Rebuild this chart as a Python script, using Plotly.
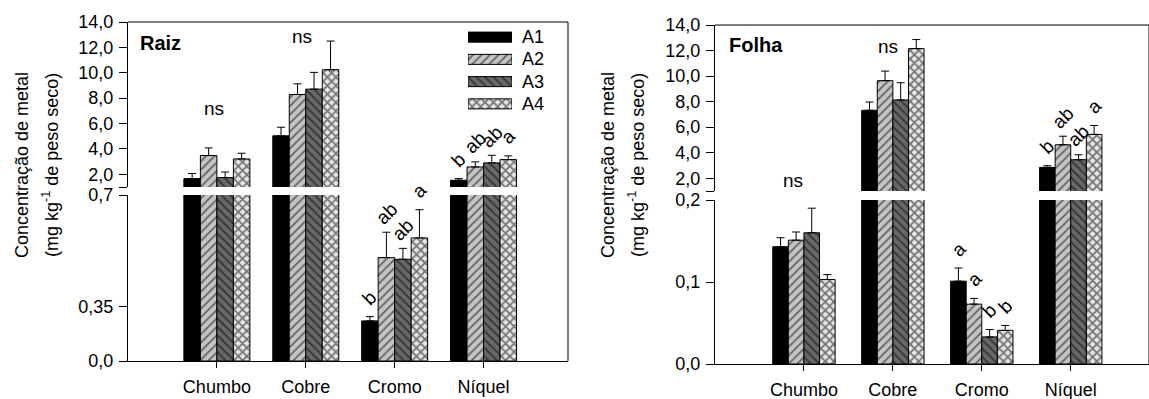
import plotly.graph_objects as go

# ---------------- data ----------------
categories = ["Chumbo", "Cobre", "Cromo", "Níquel"]
series = ["A1", "A2", "A3", "A4"]

# Raiz (root) means and upper error (mg kg-1)
raiz_A1 = [1.66, 5.03, 0.169, 1.53]
raiz_A2 = [3.48, 8.29, 0.436, 2.58]
raiz_A3 = [1.74, 8.71, 0.429, 2.90]
raiz_A4 = [3.21, 10.24, 0.519, 3.16]
raiz_err_A1 = [0.40, 0.68, 0.018, 0.13]
raiz_err_A2 = [0.60, 0.84, 0.107, 0.40]
raiz_err_A3 = [0.44, 1.32, 0.046, 0.60]
raiz_err_A4 = [0.45, 2.26, 0.119, 0.29]

# Folha (leaf) means and upper error (mg kg-1)
folha_A1 = [0.143, 7.32, 0.101, 2.85]
folha_A2 = [0.151, 9.64, 0.073, 4.62]
folha_A3 = [0.160, 8.13, 0.033, 3.45]
folha_A4 = [0.103, 12.15, 0.041, 5.43]
folha_err_A1 = [0.011, 0.65, 0.016, 0.13]
folha_err_A2 = [0.010, 0.75, 0.007, 0.67]
folha_err_A3 = [0.030, 1.35, 0.009, 0.39]
folha_err_A4 = [0.006, 0.71, 0.006, 0.70]

# significance letters per bar
raiz_letters_A1 = ["", "", "b", "b"]
raiz_letters_A2 = ["", "", "ab", "ab"]
raiz_letters_A3 = ["", "", "ab", "ab"]
raiz_letters_A4 = ["", "", "a", "a"]
folha_letters_A1 = ["", "", "a", "b"]
folha_letters_A2 = ["", "", "a", "ab"]
folha_letters_A3 = ["", "", "b", "ab"]
folha_letters_A4 = ["", "", "b", "a"]
# group-level "ns" labels
raiz_group_label = ["ns", "ns", "", ""]
folha_group_label = ["ns", "ns", "", ""]

upper_ticks = [1, 2, 4, 6, 8, 10, 12, 14]
upper_ticktext = [" ", "2,0", "4,0", "6,0", "8,0", "10,0", "12,0", "14,0"]

# ---------------- style ----------------
W, H = 1149, 399
FONT = "'Liberation Sans', Arial, sans-serif"
fills = ["#000000", "#c4c4c4", "#686868", "#e6e6e6"]
shapes_p = ["", "/", "\\", "x"]
solid = [0.3, 0.3, 0.3, 0.5]

def px_x(p):
    return p / W

def px_y(p):
    return (H - p) / H

panels = [
    dict(name="Raiz", vals=[raiz_A1, raiz_A2, raiz_A3, raiz_A4],
         errs=[raiz_err_A1, raiz_err_A2, raiz_err_A3, raiz_err_A4],
         letters=[raiz_letters_A1, raiz_letters_A2, raiz_letters_A3, raiz_letters_A4],
         group=raiz_group_label,
         x="x", xax="xaxis", lo="y", lo_ax="yaxis", up="y2", up_ax="yaxis2",
         xdom=[px_x(128), px_x(568)], xrange=[0, 4.95],
         lo_dom=[px_y(361), px_y(195)], up_dom=[px_y(187), px_y(22)],
         lo_range=[0, 0.7], lo_ticks=[0, 0.229, 0.7], lo_text=["0,0", "0,35", "0,7"],
         barw=0.1856,
         ns_pos=[(0.97, 7.2), (1.96, 12.84)],
         title_x=[22, 50], label_pos=(138, 43)),
    dict(name="Folha", vals=[folha_A1, folha_A2, folha_A3, folha_A4],
         errs=[folha_err_A1, folha_err_A2, folha_err_A3, folha_err_A4],
         letters=[folha_letters_A1, folha_letters_A2, folha_letters_A3, folha_letters_A4],
         group=folha_group_label,
         x="x2", xax="xaxis2", lo="y3", lo_ax="yaxis3", up="y4", up_ax="yaxis4",
         xdom=[px_x(715), 1.0], xrange=[0, 4.88],
         lo_dom=[px_y(364), px_y(200)], up_dom=[px_y(191), px_y(25)],
         lo_range=[0, 0.2], lo_ticks=[0, 0.1, 0.2], lo_text=["0,0", "0,1", "0,2"],
         barw=0.1753,
         ns_pos=[(0.88, 1.79), (1.95, 12.31)],
         title_x=[608, 636], label_pos=(727, 45)),
]

fig = go.Figure()
annotations = []
shapes = []
xpos = [i + 1 for i in range(len(categories))]

for P in panels:
    w = P["barw"]
    for si, sname in enumerate(series):
        off = -2 * w + si * w
        for yref in (P["lo"], P["up"]):
            fig.add_trace(go.Bar(
                x=xpos, y=P["vals"][si], base=0, width=w, offset=off,
                xaxis=P["x"], yaxis=yref, name=sname, showlegend=False,
                marker=dict(color=fills[si], line=dict(color="black", width=1),
                            pattern=dict(shape=shapes_p[si], fgcolor="black",
                                         bgcolor=fills[si], size=6, solidity=solid[si])),
                error_y=dict(type="data", symmetric=False, array=P["errs"][si],
                             arrayminus=[0] * len(categories), color="black",
                             thickness=1, width=4),
                hoverinfo="skip"))
        # significance letters
        for ci in range(len(categories)):
            lab = P["letters"][si][ci]
            if not lab:
                continue
            top = P["vals"][si][ci] + P["errs"][si][ci]
            yref = P["up"] if top > 1 else P["lo"]
            annotations.append(dict(
                x=xpos[ci] + off + w / 2, y=top, xref=P["x"], yref=yref,
                text=lab, showarrow=False, textangle=-45,
                xanchor="center", yanchor="middle", yshift=19,
                font=dict(family=FONT, size=19, color="black")))
    # ns labels
    k = 0
    for ci in range(len(categories)):
        if P["group"][ci]:
            nx, ny = P["ns_pos"][k]
            k += 1
            annotations.append(dict(
                x=nx, y=ny, xref=P["x"], yref=P["up"], text=P["group"][ci],
                showarrow=False, xanchor="center", yanchor="middle",
                font=dict(family=FONT, size=19, color="black")))
    # panel label
    annotations.append(dict(
        x=px_x(P["label_pos"][0]), y=px_y(P["label_pos"][1]), xref="paper", yref="paper",
        text="<b>%s</b>" % P["name"], showarrow=False, xanchor="left", yanchor="middle",
        font=dict(family=FONT, size=20, color="black")))
    # y titles
    ymid = px_y(165)
    annotations.append(dict(
        x=px_x(P["title_x"][0]), y=ymid, xref="paper", yref="paper",
        text="Concentração de metal", textangle=-90, showarrow=False,
        xanchor="center", yanchor="middle",
        font=dict(family=FONT, size=18, color="black")))
    annotations.append(dict(
        x=px_x(P["title_x"][1]), y=ymid, xref="paper", yref="paper",
        text="(mg kg<sup>-1</sup> de peso seco)", textangle=-90, showarrow=False,
        xanchor="center", yanchor="middle",
        font=dict(family=FONT, size=18, color="black")))

    # axes
    fig.layout[P["xax"]] = dict(
        domain=P["xdom"], range=P["xrange"], anchor=P["lo"],
        tickmode="array", tickvals=xpos, ticktext=categories,
        ticks="outside", ticklen=6, tickcolor="black",
        showline=True, linecolor="black", linewidth=1, showgrid=False,
        zeroline=False, automargin=False, ticklabelstandoff=3,
        tickfont=dict(family=FONT, size=18, color="black"))
    fig.layout[P["lo_ax"]] = dict(
        domain=P["lo_dom"], range=P["lo_range"], anchor=P["x"],
        tickmode="array", tickvals=P["lo_ticks"], ticktext=P["lo_text"],
        ticks="outside", ticklen=8, tickcolor="black",
        showline=True, linecolor="black", linewidth=1, showgrid=False,
        zeroline=False, automargin=False, ticklabelstandoff=2,
        tickfont=dict(family=FONT, size=18, color="black"))
    fig.layout[P["up_ax"]] = dict(
        domain=P["up_dom"], range=[1, 14], anchor=P["x"],
        tickmode="array", tickvals=upper_ticks, ticktext=upper_ticktext,
        ticks="outside", ticklen=8, tickcolor="black",
        showline=True, linecolor="black", linewidth=1, showgrid=False,
        zeroline=False, automargin=False, ticklabelstandoff=2,
        tickfont=dict(family=FONT, size=18, color="black"))
    # top border line
    shapes.append(dict(type="line", xref=P["x"] + " domain", yref="paper",
                       x0=0, x1=1, y0=P["up_dom"][1], y1=P["up_dom"][1],
                       line=dict(color="black", width=1)))
    # right border line
    shapes.append(dict(type="line", xref=P["x"] + " domain", yref="paper",
                       x0=1, x1=1, y0=P["lo_dom"][0], y1=P["up_dom"][1],
                       line=dict(color="black", width=1)))

# ---------------- custom legend (wide swatches) ----------------
for si, sname in enumerate(series):
    fig.add_trace(go.Bar(
        x=[1], y=[sname], base=0, orientation="h", width=0.45,
        xaxis="x3", yaxis="y5", showlegend=False, hoverinfo="skip",
        marker=dict(color=fills[si], line=dict(color="black", width=1),
                    pattern=dict(shape=shapes_p[si], fgcolor="black",
                                 bgcolor=fills[si], size=6, solidity=solid[si]))))
    annotations.append(dict(
        x=1, y=si, xref="x3", yref="y5", text=sname, showarrow=False,
        xanchor="left", yanchor="middle", xshift=8,
        font=dict(family=FONT, size=18, color="black")))

fig.update_layout(
    xaxis3=dict(domain=[px_x(468), px_x(512)], range=[0, 1], visible=False,
                anchor="y5"),
    yaxis5=dict(domain=[px_y(115), px_y(26)], range=[3.5, -0.5], visible=False,
                type="category", anchor="x3"),
)

fig.update_layout(
    width=W, height=H, barmode="overlay",
    margin=dict(l=0, r=0, t=0, b=0),
    paper_bgcolor="white", plot_bgcolor="white",
    showlegend=False, hovermode=False,
    annotations=annotations, shapes=shapes,
    font=dict(family=FONT, color="black"),
)

fig.write_html("out.html",
               config={"displayModeBar": False, "staticPlot": True},
               post_script="document.body.style.margin='0';document.body.style.overflow='hidden';")
